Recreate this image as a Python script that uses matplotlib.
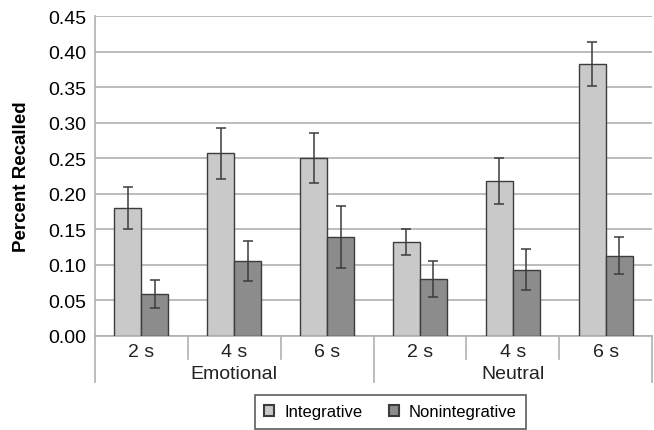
import numpy as np
import matplotlib
matplotlib.use('Agg')
import matplotlib.pyplot as plt
from matplotlib.patches import Patch
import matplotlib.transforms as mtransforms

plt.rcParams['font.family'] = ['Liberation Sans', 'DejaVu Sans']

# Recall proportions per condition (Emotional 2/4/6 s, Neutral 2/4/6 s)
groups = ['Emotional', 'Neutral']
delays = ['2 s', '4 s', '6 s']
integrative = [0.180, 0.257, 0.250, 0.132, 0.218, 0.382]
integrative_err = [0.030, 0.036, 0.035, 0.018, 0.032, 0.031]
nonintegrative = [0.059, 0.105, 0.139, 0.080, 0.093, 0.113]
nonintegrative_err = [0.020, 0.028, 0.044, 0.025, 0.029, 0.026]
yticks = [0.00, 0.05, 0.10, 0.15, 0.20, 0.25, 0.30, 0.35, 0.40, 0.45]

light = '#c9c9c9'
dark = '#8c8c8c'
edge = '#3c3c3c'
axis_gray = '#b0b0b0'

fig = plt.figure(figsize=(6.54, 4.31), dpi=100)
ax = fig.add_axes([95 / 654, 94 / 431, 557 / 654, 320 / 431])

x = np.arange(len(groups) * len(delays))
w = 0.29
ax.bar(x - w / 2, integrative, w, color=light, edgecolor=edge, linewidth=1.0, zorder=3)
ax.bar(x + w / 2, nonintegrative, w, color=dark, edgecolor=edge, linewidth=1.0, zorder=3)
ax.errorbar(x - w / 2, integrative, yerr=integrative_err, fmt='none', ecolor=edge,
            elinewidth=1.1, capsize=3.5, capthick=1.1, zorder=4)
ax.errorbar(x + w / 2, nonintegrative, yerr=nonintegrative_err, fmt='none', ecolor=edge,
            elinewidth=1.1, capsize=3.5, capthick=1.1, zorder=4)

ax.set_xlim(-0.5, len(x) - 0.5)
ax.set_ylim(0, 0.45)
ax.set_yticks(yticks)
ax.set_yticklabels([f'{t:.2f}' for t in yticks], fontsize=14)
ax.tick_params(axis='y', length=0, pad=6)
ax.set_xticks([])
ax.yaxis.grid(True, color=axis_gray, linewidth=1.2, zorder=0)
for s in ['top', 'right']:
    ax.spines[s].set_visible(False)
for s in ['left', 'bottom']:
    ax.spines[s].set_color(axis_gray)
    ax.spines[s].set_linewidth(1.2)

ax.set_ylabel('Percent Recalled', fontsize=13.5, fontweight='bold', labelpad=13)

# two-level category axis below the bars
trans = mtransforms.blended_transform_factory(ax.transData, ax.transAxes)
for i in range(len(x)):
    ax.text(x[i], -0.047, delays[i % len(delays)], transform=trans,
            ha='center', va='center', fontsize=14, color='#222222')
for b in np.arange(0.5, len(x) - 1, 1.0):
    if b == 2.5:
        continue
    ax.plot([b, b], [0, -0.072], transform=trans, color=axis_gray, lw=1.2, clip_on=False)
for b in [-0.5, 2.5, len(x) - 0.5]:
    ax.plot([b, b], [0, -0.144], transform=trans, color=axis_gray, lw=1.2, clip_on=False)
for g, name in enumerate(groups):
    ax.text(g * len(delays) + 1, -0.116, name, transform=trans,
            ha='center', va='center', fontsize=14, color='#222222')

handles = [Patch(facecolor=light, edgecolor=edge, linewidth=1.5),
           Patch(facecolor=dark, edgecolor=edge, linewidth=1.5)]
leg = fig.legend(handles, ['Integrative', 'Nonintegrative'], loc='lower center',
                 bbox_to_anchor=(0.597, -0.016), ncol=2, fontsize=12, frameon=True,
                 fancybox=False, edgecolor='#333333', handlelength=0.6, handleheight=0.6,
                 columnspacing=1.6, handletextpad=0.6, borderpad=0.55)
leg.get_frame().set_linewidth(1.2)

fig.savefig('out.png', dpi=100)
